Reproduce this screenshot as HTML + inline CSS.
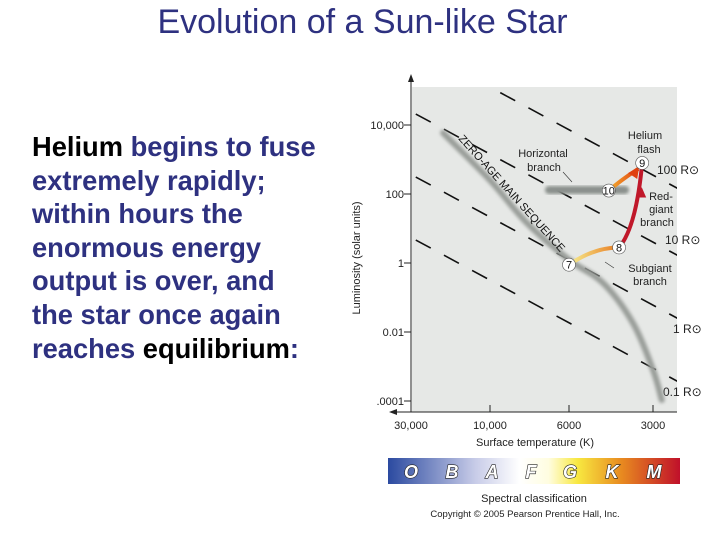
<!DOCTYPE html>
<html><head><meta charset="utf-8"><style>
html,body{margin:0;padding:0;background:#fff;}
body{width:720px;height:540px;position:relative;overflow:hidden;font-family:"Liberation Sans",sans-serif;}
#title{position:absolute;left:0;width:725px;top:3px;text-align:center;font-size:34px;color:#2e3180;}
#body{position:absolute;left:32px;top:130px;font-size:27.3px;font-weight:bold;line-height:33.6px;color:#2e3180;white-space:nowrap;}
#body .k{color:#000;}
svg{position:absolute;left:0;top:0;}
</style></head><body>
<div id="title">Evolution of a Sun-like Star</div>
<div id="body"><span class="k">Helium</span> begins to fuse<br>extremely rapidly;<br>within hours the<br>enormous energy<br>output is over, and<br>the star once again<br>reaches <span class="k">equilibrium</span>:</div>
<svg id="chart" width="720" height="540">
<defs>
<linearGradient id="spec" x1="0" x2="1">
<stop offset="0" stop-color="#2b4aa0"/><stop offset="0.3" stop-color="#c8cce8"/><stop offset="0.45" stop-color="#ffffff"/>
<stop offset="0.55" stop-color="#fffde0"/><stop offset="0.65" stop-color="#f8e840"/><stop offset="0.8" stop-color="#e88a20"/><stop offset="1" stop-color="#c0102a"/>
</linearGradient>
<linearGradient id="sg" x1="0" x2="1"><stop offset="0" stop-color="#f6ee90"/><stop offset="1" stop-color="#e87a20"/></linearGradient>
<linearGradient id="hg" x1="0" x2="1"><stop offset="0" stop-color="#f4b030"/><stop offset="1" stop-color="#e04010"/></linearGradient>
<filter id="blur"><feGaussianBlur stdDeviation="1.6"/></filter>
<clipPath id="pc"><rect x="412" y="87" width="265" height="325"/></clipPath>
</defs>
<rect x="412" y="87" width="265" height="325" fill="#e6e8e6"/>
<g id="layer"></g>
</svg>
<script>
const xTickTemps=[30000,10000,6000,3000];
const xTickLabels=["30,000","10,000","6000","3000"];
const yTickLogs=[4,2,0,-2,-4];
const yTickLabels=["10,000","100","1","0.01",".0001"];
// main sequence track: [temperature K, log10 L]
const msTemp=[19200,10000,7870,5990,4530,3540,3000,2790];
const msLogL=[3.77,2.4,1.16,0.09,-0.58,-1.74,-3.1,-3.97];
const radiusLabels=["100 R","10 R","1 R","0.1 R"];
const radiusLogR=[2,1,0,-1];
const stagesName=["7","8","9","10"];
const stagesTemp=[6000,3970,3280,4320];
const stagesLogL=[-0.05,0.45,2.9,2.1];

const xPix=[411,490,569,653];
function xS(t){const lt=Math.log10(t);const L=xTickTemps.map(Math.log10);
 let i=0;while(i<L.length-2&&lt<L[i+1])i++;
 return xPix[i]+(lt-L[i])/(L[i+1]-L[i])*(xPix[i+1]-xPix[i]);}
function yS(l){return 263-l*34.5;}
const NS="http://www.w3.org/2000/svg";
const g=document.getElementById('layer');
function mk(tag,at,parent){const e=document.createElementNS(NS,tag);for(const k in at)e.setAttribute(k,at[k]);(parent||g).appendChild(e);return e;}
const rlx=[657,665,673,663];
radiusLogR.forEach((r,i)=>{
 const yy=52+i*63+(i>0?4:0);
 const l=mk('line',{x1:425-150,y1:yy-150*0.54,x2:680,y2:yy+255*0.54,stroke:'#111','stroke-width':1.6,'stroke-dasharray':'17 15','clip-path':'url(#pc)'});
 
 
 const t=mk('text',{x:rlx[i],y:[174,244,333,396][i],'font-size':12,fill:'#222'});
 t.textContent=radiusLabels[i]+'\u2299';
 
 
});
// smooth Catmull-Rom path through main-sequence points
const pts=msTemp.map((t,i)=>[xS(t),yS(msLogL[i])]);
let d='M'+pts[0][0].toFixed(1)+' '+pts[0][1].toFixed(1);
for(let i=0;i<pts.length-1;i++){
 const p0=pts[Math.max(0,i-1)],p1=pts[i],p2=pts[i+1],p3=pts[Math.min(pts.length-1,i+2)];
 const c1=[p1[0]+(p2[0]-p0[0])/6,p1[1]+(p2[1]-p0[1])/6],c2=[p2[0]-(p3[0]-p1[0])/6,p2[1]-(p3[1]-p1[1])/6];
 d+=`C${c1[0].toFixed(1)} ${c1[1].toFixed(1)} ${c2[0].toFixed(1)} ${c2[1].toFixed(1)} ${p2[0].toFixed(1)} ${p2[1].toFixed(1)}`;
}
const ms=mk('path',{d:d,fill:'none',stroke:'#9a9e9a','stroke-width':6,'stroke-linecap':'round','stroke-linejoin':'round',filter:'url(#blur)'});


const mst=mk('text',{x:0,y:0,'font-size':11,fill:'#111',transform:'translate(458,139) rotate(48)'});
mst.textContent='ZERO-AGE MAIN SEQUENCE';


const hb=mk('rect',{x:545,y:186,width:84,height:8,rx:4,fill:'#8a908c',filter:'url(#blur)'});


const P=stagesName.map((n,i)=>[xS(stagesTemp[i]),yS(stagesLogL[i])]);
const sb=mk('path',{d:`M${P[0][0]} ${P[0][1]} Q${(P[0][0]+P[1][0])/2} ${P[1][1]} ${P[1][0]} ${P[1][1]}`,fill:'none',stroke:'url(#sg)','stroke-width':4});


const rg=mk('path',{d:`M${P[1][0]} ${P[1][1]} Q${P[2][0]-6} ${P[1][1]-20} ${P[2][0]} ${P[2][1]}`,fill:'none',stroke:'#c0182a','stroke-width':4});


const ar1=mk('polygon',{points:`${P[2][0]-6},${yS(1.9)} ${P[2][0]+4},${yS(1.9)} ${P[2][0]-0.5},${yS(2.2)}`,fill:'#c0182a'});


const hf=mk('path',{d:`M${P[3][0]} ${P[3][1]} Q${P[3][0]+14} ${P[3][1]-12} ${P[2][0]-4} ${P[2][1]+6}`,fill:'none',stroke:'url(#hg)','stroke-width':4});


const ar2=mk('polygon',{points:`${P[2][0]-3},${P[2][1]+4} ${P[2][0]-14},${P[2][1]+10} ${P[2][0]-5},${P[2][1]+16}`,fill:'#e04010'});


P.forEach((p,i)=>{
 const c=mk('circle',{cx:p[0],cy:p[1],r:6.5,fill:'#fff',stroke:'#555','stroke-width':0.6});
 
 
 const t=mk('text',{x:p[0],y:p[1]+4,'font-size':11,'text-anchor':'middle',fill:'#111'});
 t.textContent=stagesName[i];
 
 
});
[["Horizontal",543,157],["branch",544,171],["Helium",645,139],["flash",649,153],["Red-",661,200],["giant",661,213],["branch",657,226],["Subgiant",650,272],["branch",650,285]].forEach(a=>{
 const t=mk('text',{x:a[1],y:a[2],'font-size':11,fill:'#222','text-anchor':'middle'});
 t.textContent=a[0];
 
 
});
mk('line',{x1:563,y1:172,x2:572,y2:182,stroke:'#333','stroke-width':0.6});
mk('line',{x1:605,y1:262,x2:614,y2:268,stroke:'#333','stroke-width':0.6});
const ya=mk('line',{x1:411,y1:412,x2:411,y2:80,stroke:'#222','stroke-width':1});


mk('polygon',{points:'408,82 414,82 411,74',fill:'#222'});
const xa=mk('line',{x1:395,y1:412,x2:677,y2:412,stroke:'#222','stroke-width':1});


mk('polygon',{points:'397,409 397,415 389,412',fill:'#222'});
yTickLogs.forEach((l,i)=>{
 mk('line',{x1:404,y1:yS(l),x2:411,y2:yS(l),stroke:'#222'});
 const t=mk('text',{x:404,y:yS(l)+4,'font-size':11,'text-anchor':'end',fill:'#222'});
 t.textContent=yTickLabels[i];
 
 
});
xTickTemps.forEach((v,i)=>{
 mk('line',{x1:xS(v),y1:405,x2:xS(v),y2:412,stroke:'#222'});
 const t=mk('text',{x:xS(v),y:429,'font-size':11,'text-anchor':'middle',fill:'#222'});
 t.textContent=xTickLabels[i];
 
 
});
const yt=mk('text',{x:0,y:0,'font-size':11,'text-anchor':'middle',fill:'#222',transform:'translate(360,258) rotate(-90)'});
yt.textContent='Luminosity (solar units)';


const xt=mk('text',{x:535,y:446,'font-size':11,'text-anchor':'middle',fill:'#222'});
xt.textContent='Surface temperature (K)';


const sp=mk('rect',{x:388,y:458,width:292,height:26,fill:'url(#spec)'});


["O","B","A","F","G","K","M"].forEach((c,i)=>{
 const t=mk('text',{x:[411,452,492,531,570,612,654][i],y:478,'font-size':18,'font-weight':'bold','font-style':'italic','text-anchor':'middle',fill:'#fff',stroke:'#222','stroke-width':1.2,'paint-order':'stroke'});
 t.textContent=c;
 
 
});
const sc=mk('text',{x:534,y:502,'font-size':11,'text-anchor':'middle',fill:'#222'});
sc.textContent='Spectral classification';


const cp=mk('text',{x:525,y:517,'font-size':9.5,'text-anchor':'middle',fill:'#222'});
cp.textContent='Copyright \u00a9 2005 Pearson Prentice Hall, Inc.';


</script>
</body></html>
